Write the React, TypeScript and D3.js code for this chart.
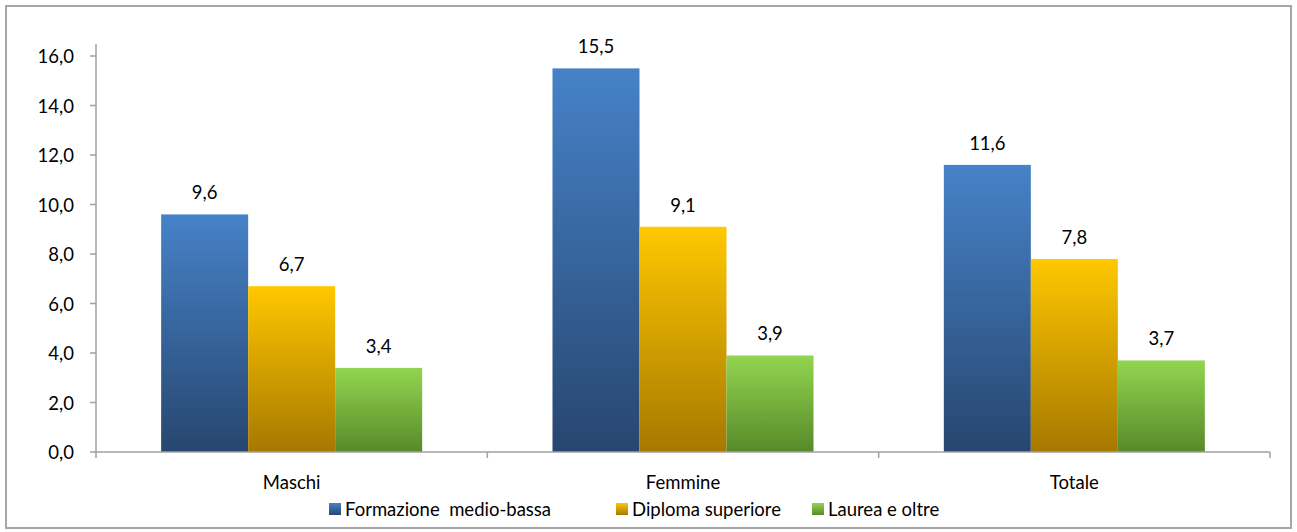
import React from "react";
import * as d3 from "d3";

const categories = ["Maschi", "Femmine", "Totale"];
const seriesNames = ["Formazione  medio-bassa", "Diploma superiore", "Laurea e oltre"];
const formazioneMedioBassa = [9.6, 15.5, 11.6];
const diplomaSuperiore = [6.7, 9.1, 7.8];
const laureaEOltre = [3.4, 3.9, 3.7];
const yTicks = [0, 2, 4, 6, 8, 10, 12, 14, 16];

const seriesValues = [formazioneMedioBassa, diplomaSuperiore, laureaEOltre];
const gradients = [
  { id: "gBlue", top: "#4682c8", bottom: "#27466f" },
  { id: "gYellow", top: "#ffc800", bottom: "#a67800" },
  { id: "gGreen", top: "#92d550", bottom: "#578a2a" },
];

const W = 1297;
const H = 532;
const FONT = "Lato, 'Open Sans', sans-serif";
const FS = 18.5;

export default function App() {
  const x0 = 96;
  const x1 = 1270;
  const yTop = 56;
  const yBase = 452;

  const xBand = d3.scaleBand<string>().domain(categories).range([x0, x1]).padding(0);
  const y = d3.scaleLinear().domain([0, 16]).range([yBase, yTop]);

  const bw = xBand.bandwidth();
  const groupW = bw * 0.667;
  const xInner = d3
    .scaleBand<number>()
    .domain([0, 1, 2])
    .range([0, groupW])
    .padding(0);

  const fmt = (v: number) => v.toFixed(1).replace(".", ",");

  const legendX = [329, 616, 812];

  return (
    <svg
      width={W}
      height={H}
      style={{ position: "absolute", left: 0, top: 0, background: "#fff" }}
      fontFamily={FONT}
    >
      <defs>
        {gradients.map((g) => (
          <linearGradient key={g.id} id={g.id} x1="0" y1="0" x2="0" y2="1">
            <stop offset="0%" stopColor={g.top} />
            <stop offset="100%" stopColor={g.bottom} />
          </linearGradient>
        ))}
      </defs>
      <rect x={6} y={6} width={1285} height={522} fill="#fff" stroke="#a6a6a6" strokeWidth={2} />

      {/* y axis */}
      <line x1={x0} x2={x0} y1={yTop - 12} y2={yBase} stroke="#a0a0a0" strokeWidth={1.5} />
      {yTicks.map((t) => (
        <g key={t}>
          <line x1={x0 - 6} x2={x0} y1={y(t)} y2={y(t)} stroke="#a0a0a0" strokeWidth={1.5} />
          <text
            x={74}
            y={y(t)}
            textAnchor="end"
            dominantBaseline="central"
            fontSize={FS}
            fill="#000"
          >
            {fmt(t)}
          </text>
        </g>
      ))}

      {/* bars */}
      {categories.map((c, ci) => {
        const gx = (xBand(c) as number) + (bw - groupW) / 2;
        return (
          <g key={c}>
            {seriesValues.map((vals, si) => {
              const v = vals[ci];
              const bx = gx + (xInner(si) as number);
              const iw = xInner.bandwidth();
              return (
                <g key={si}>
                  <rect
                    x={bx}
                    y={y(v)}
                    width={iw}
                    height={yBase - y(v)}
                    fill={`url(#${gradients[si].id})`}
                  />
                  <text
                    x={bx + iw / 2}
                    y={y(v) - 22}
                    textAnchor="middle"
                    dominantBaseline="central"
                    fontSize={FS}
                    fill="#000"
                  >
                    {fmt(v)}
                  </text>
                </g>
              );
            })}
            <text
              x={(xBand(c) as number) + bw / 2}
              y={482}
              textAnchor="middle"
              dominantBaseline="central"
              fontSize={FS}
              fill="#000"
            >
              {c}
            </text>
          </g>
        );
      })}

      {/* x axis */}
      <line x1={x0} x2={x1} y1={yBase} y2={yBase} stroke="#a0a0a0" strokeWidth={1.5} />
      {[...categories.map((c) => xBand(c) as number), x1].map((tx, i) => (
        <line key={i} x1={tx} x2={tx} y1={yBase} y2={yBase + 6} stroke="#a0a0a0" strokeWidth={1.5} />
      ))}

      {/* legend */}
      {seriesNames.map((n, i) => (
        <g key={n}>
          <rect x={legendX[i]} y={503} width={12} height={12} fill={`url(#${gradients[i].id})`} />
          <text
            x={legendX[i] + 16}
            y={509}
            dominantBaseline="central"
            fontSize={FS}
            fill="#000"
            style={{ whiteSpace: "pre" }}
          >
            {n}
          </text>
        </g>
      ))}
    </svg>
  );
}
